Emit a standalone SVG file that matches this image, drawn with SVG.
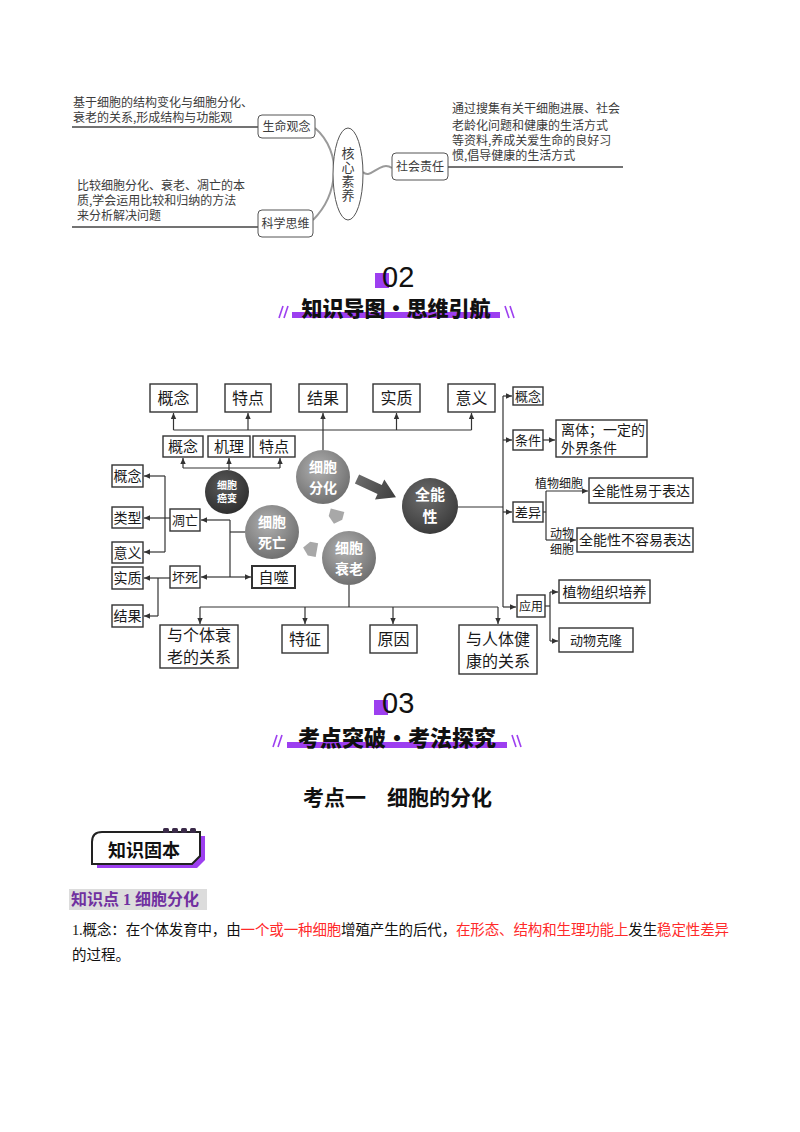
<svg xmlns="http://www.w3.org/2000/svg" width="800" height="1132" viewBox="0 0 800 1132">
<defs>
<style>
.scan{font-family:"Noto Sans CJK SC",sans-serif;font-size:12px;fill:#3c3c3c;}
.sct{font-family:"Noto Sans CJK SC",sans-serif;font-size:12px;fill:#3c3c3c;text-anchor:middle;}
.tbox{fill:#fff;stroke:#555;stroke-width:1;}
.tl{fill:none;stroke:#444;stroke-width:1.3;}
.gc{fill:none;stroke:#9a9a9a;stroke-width:2;}
.mb{fill:#fff;stroke:#333;stroke-width:1.4;}
.mt{font-family:"Noto Sans CJK SC",sans-serif;fill:#1a1a1a;text-anchor:middle;}
.ml{font-family:"Noto Sans CJK SC",sans-serif;fill:#1a1a1a;}
.ct{font-family:"Noto Sans CJK SC",sans-serif;fill:#fff;font-weight:bold;text-anchor:middle;}
.ln{fill:none;stroke:#333;stroke-width:1.2;}
.la{fill:none;stroke:#333;stroke-width:1.2;marker-end:url(#ah);}
.pur{fill:#9d3ff0;}
.sl{stroke:#9d3ff0;stroke-width:1.6;}
.hd{font-family:"Noto Sans CJK SC",sans-serif;font-weight:900;fill:#111;text-anchor:middle;}
.num{font-family:"Liberation Sans","DejaVu Sans",sans-serif;font-size:29px;fill:#111;}
.body{font-family:"Liberation Serif","Noto Sans CJK SC",serif;font-size:14.5px;fill:#111;}
.red{fill:#ff2a2a;}
</style>
<marker id="ah" viewBox="0 0 10 10" refX="10" refY="5" markerWidth="7" markerHeight="6" orient="auto" markerUnits="userSpaceOnUse">
<path d="M0,0.5 L10,5 L0,9.5 z" fill="#333"/>
</marker>
<radialGradient id="gMid" cx="42%" cy="35%" r="70%">
<stop offset="0" stop-color="#b0b0b0"/><stop offset="1" stop-color="#6c6c6c"/>
</radialGradient>
<radialGradient id="gDark" cx="42%" cy="35%" r="70%">
<stop offset="0" stop-color="#6e6e6e"/><stop offset="1" stop-color="#383838"/>
</radialGradient>
<radialGradient id="gCan" cx="42%" cy="35%" r="70%">
<stop offset="0" stop-color="#5a5a5a"/><stop offset="1" stop-color="#2c2c2c"/>
</radialGradient>
<linearGradient id="gArr" x1="0" y1="0" x2="1" y2="0">
<stop offset="0" stop-color="#6a6a6a"/><stop offset="1" stop-color="#3e3e3e"/>
</linearGradient>
</defs>
<rect width="800" height="1132" fill="#fff"/>

<!-- ===== Top: core literacy ===== -->
<g id="top-connectors">
<line class="tl" x1="72" y1="127" x2="258" y2="127"/>
<line class="tl" x1="72" y1="227" x2="258" y2="227"/>
<line class="tl" x1="448" y1="167" x2="623" y2="167"/>
<path class="gc" d="M315,128 C329,140 335,158 334,173 C333,190 326,207 313,220"/>
<path class="gc" d="M363,172 C371,180 380,160 392,168"/>
</g>
<g id="t-text-left1">
<text class="scan" x="73" y="107">基于细胞的结构变化与细胞分化、<tspan x="73" y="122">衰老的关系,形成结构与功能观</tspan></text>
</g>
<g id="t-text-left2">
<text class="scan" x="77" y="190">比较细胞分化、衰老、凋亡的本<tspan x="77" y="205">质,学会运用比较和归纳的方法</tspan><tspan x="77" y="220">来分析解决问题</tspan></text>
</g>
<g id="t-text-right">
<text class="scan" x="452" y="113">通过搜集有关干细胞进展、社会<tspan x="452" y="130">老龄化问题和健康的生活方式</tspan><tspan x="452" y="145">等资料,养成关爱生命的良好习</tspan><tspan x="452" y="160">惯,倡导健康的生活方式</tspan></text>
</g>
<g id="t-shengming">
<rect class="tbox" x="258" y="115" width="57" height="23" rx="4"/>
<text class="sct" x="286.5" y="131">生命观念</text>
</g>
<g id="t-kexue">
<rect class="tbox" x="258" y="210" width="55" height="27" rx="4"/>
<text class="sct" x="285.5" y="228">科学思维</text>
</g>
<g id="t-shehui">
<rect class="tbox" x="392" y="153" width="56" height="27" rx="4"/>
<text class="sct" x="420" y="171">社会责任</text>
</g>
<g id="t-core">
<ellipse cx="348" cy="174" rx="15" ry="46" fill="#fff" stroke="#555" stroke-width="1"/>
<text x="348" y="147" writing-mode="tb" style="font-family:'Noto Sans CJK SC',sans-serif;font-size:13px;fill:#3c3c3c;letter-spacing:1px">核心素养</text>
</g>

<!-- ===== Header 02 ===== -->
<g id="header-02">
<rect class="pur" x="375" y="273" width="14" height="15"/>
<text class="num" x="382" y="287">02</text>
<rect class="pur" x="292" y="312" width="208" height="6"/>
<text class="hd" x="396" y="316" style="font-size:21px">知识导图·思维引航</text>
<line class="sl" x1="279" y1="318" x2="283" y2="306"/>
<line class="sl" x1="284" y1="318" x2="288" y2="306"/>
<line class="sl" x1="505" y1="306" x2="509" y2="318"/>
<line class="sl" x1="510" y1="306" x2="514" y2="318"/>
</g>

<!-- ===== Mind map connectors ===== -->
<g id="connectors">
<line class="ln" x1="173.5" y1="430" x2="471.5" y2="430"/>
<line class="la" x1="173.5" y1="430" x2="173.5" y2="413"/>
<line class="la" x1="248" y1="430" x2="248" y2="413"/>
<line class="la" x1="396.5" y1="430" x2="396.5" y2="413"/>
<line class="la" x1="471.5" y1="430" x2="471.5" y2="413"/>
<line class="la" x1="323" y1="450" x2="323" y2="413"/>
<line class="ln" x1="183" y1="468" x2="280" y2="468"/>
<line class="la" x1="183" y1="468" x2="183" y2="458"/>
<line class="la" x1="280" y1="468" x2="280" y2="458"/>
<line class="la" x1="229" y1="470" x2="229" y2="458"/>
<line class="ln" x1="165" y1="476" x2="165" y2="552"/>
<line class="la" x1="165" y1="476" x2="144" y2="476"/>
<line class="la" x1="165" y1="552" x2="144" y2="552"/>
<line class="la" x1="170" y1="518" x2="144" y2="518"/>
<line class="ln" x1="245" y1="532" x2="230" y2="532"/>
<line class="ln" x1="230" y1="520" x2="230" y2="577"/>
<line class="la" x1="230" y1="520" x2="201" y2="520"/>
<line class="la" x1="230" y1="577" x2="201" y2="577"/>
<line class="la" x1="230" y1="577" x2="251" y2="577"/>
<line class="la" x1="170" y1="578" x2="144" y2="578"/>
<line class="ln" x1="158" y1="578" x2="158" y2="616"/>
<line class="la" x1="158" y1="616" x2="144" y2="616"/>
<line class="ln" x1="349" y1="585" x2="349" y2="607"/>
<line class="ln" x1="200" y1="607" x2="498" y2="607"/>
<line class="la" x1="200" y1="607" x2="200" y2="624"/>
<line class="la" x1="305" y1="607" x2="305" y2="624"/>
<line class="la" x1="393" y1="607" x2="393" y2="624"/>
<line class="la" x1="498" y1="607" x2="498" y2="624"/>
<line class="ln" x1="458" y1="507" x2="503" y2="507"/>
<line class="ln" x1="503" y1="396" x2="503" y2="607"/>
<line class="la" x1="503" y1="396" x2="512" y2="396"/>
<line class="la" x1="503" y1="440" x2="512" y2="440"/>
<line class="la" x1="503" y1="512" x2="512" y2="512"/>
<line class="la" x1="503" y1="607" x2="516" y2="607"/>
<line class="la" x1="543" y1="440" x2="555" y2="440"/>
<line class="ln" x1="543" y1="512" x2="546" y2="512"/>
<line class="ln" x1="546" y1="491" x2="546" y2="540"/>
<line class="la" x1="546" y1="491" x2="588" y2="491"/>
<line class="la" x1="546" y1="540" x2="576" y2="540"/>
<line class="ln" x1="545" y1="606" x2="550" y2="606"/>
<line class="ln" x1="550" y1="592" x2="550" y2="641"/>
<line class="la" x1="550" y1="592" x2="558" y2="592"/>
<line class="la" x1="550" y1="641" x2="558" y2="641"/>
<g transform="translate(357,479) rotate(25)">
<polygon points="0,-5 25,-5 25,-11 43,0 25,11 25,5 0,5" fill="url(#gArr)"/>
</g>
<g transform="translate(336,516) rotate(15)">
<polygon points="-7,-6 7,-6 7,2 0,8 -7,2" fill="#a8a8a8"/>
</g>
<g transform="translate(311,549) rotate(100)">
<polygon points="-7,-6 7,-6 7,2 0,8 -7,2" fill="#a8a8a8"/>
</g>
</g>

<!-- ===== Mind map nodes ===== -->
<g id="n-top-gainian"><rect class="mb" x="150" y="384" width="47" height="28"/><text class="mt" x="173.5" y="404" font-size="16">概念</text></g>
<g id="n-top-tedian"><rect class="mb" x="225" y="384" width="46" height="28"/><text class="mt" x="248" y="404" font-size="16">特点</text></g>
<g id="n-top-jieguo"><rect class="mb" x="299" y="384" width="48" height="28"/><text class="mt" x="323" y="404" font-size="16">结果</text></g>
<g id="n-top-shizhi"><rect class="mb" x="373" y="384" width="47" height="28"/><text class="mt" x="396.5" y="404" font-size="16">实质</text></g>
<g id="n-top-yiyi"><rect class="mb" x="448" y="384" width="47" height="28"/><text class="mt" x="471.5" y="404" font-size="16">意义</text></g>

<g id="n-c-gainian"><rect class="mb" x="163" y="436" width="40" height="21"/><text class="mt" x="183" y="451.5" font-size="15">概念</text></g>
<g id="n-c-jili"><rect class="mb" x="208" y="436" width="42" height="21"/><text class="mt" x="229" y="451.5" font-size="15">机理</text></g>
<g id="n-c-tedian"><rect class="mb" x="253" y="436" width="42" height="21"/><text class="mt" x="274" y="451.5" font-size="15">特点</text></g>

<g id="n-l-gainian"><rect class="mb" x="112" y="465" width="31" height="22"/><text class="mt" x="127.5" y="481" font-size="14">概念</text></g>
<g id="n-l-leixing"><rect class="mb" x="112" y="507" width="31" height="21"/><text class="mt" x="127.5" y="522.5" font-size="14">类型</text></g>
<g id="n-l-yiyi"><rect class="mb" x="112" y="542" width="31" height="21"/><text class="mt" x="127.5" y="557.5" font-size="14">意义</text></g>
<g id="n-l-shizhi"><rect class="mb" x="112" y="567" width="31" height="22"/><text class="mt" x="127.5" y="583" font-size="14">实质</text></g>
<g id="n-l-jieguo"><rect class="mb" x="112" y="605" width="31" height="22"/><text class="mt" x="127.5" y="621" font-size="14">结果</text></g>
<g id="n-diaowang"><rect class="mb" x="170" y="509" width="30" height="22"/><text class="mt" x="185" y="524.5" font-size="13">凋亡</text></g>
<g id="n-huaisi"><rect class="mb" x="170" y="566" width="30" height="22"/><text class="mt" x="185" y="581.5" font-size="13">坏死</text></g>
<g id="n-zishi"><rect class="mb" x="252" y="566" width="43" height="22" style="stroke-width:2"/><text class="mt" x="273.5" y="582.5" font-size="15">自噬</text></g>

<g id="n-b-geti"><rect class="mb" x="160" y="625" width="78" height="43"/><text class="mt" x="199" y="641" font-size="16">与个体衰<tspan x="199" y="663">老的关系</tspan></text></g>
<g id="n-b-tezheng"><rect class="mb" x="282" y="625" width="46" height="28"/><text class="mt" x="305" y="645" font-size="16">特征</text></g>
<g id="n-b-yuanyin"><rect class="mb" x="370" y="625" width="47" height="28"/><text class="mt" x="393.5" y="645" font-size="16">原因</text></g>
<g id="n-b-renti"><rect class="mb" x="459" y="625" width="78" height="49"/><text class="mt" x="498" y="645" font-size="16">与人体健<tspan x="498" y="667">康的关系</tspan></text></g>

<g id="n-r-gainian"><rect class="mb" x="513" y="387" width="30" height="18"/><text class="mt" x="528" y="400.5" font-size="13">概念</text></g>
<g id="n-r-tiaojian"><rect class="mb" x="513" y="430" width="30" height="20"/><text class="mt" x="528" y="444.5" font-size="13">条件</text></g>
<g id="n-r-liti"><rect class="mb" x="556" y="420" width="91" height="37"/><text class="ml" x="561" y="435" font-size="14">离体；一定的<tspan x="561" y="453">外界条件</tspan></text></g>
<g id="n-r-chayi"><rect class="mb" x="513" y="502" width="30" height="20"/><text class="mt" x="528" y="516.5" font-size="13">差异</text></g>
<g id="n-r-yiyu"><rect class="mb" x="589" y="478" width="104" height="25"/><text class="mt" x="641" y="495.5" font-size="14">全能性易于表达</text></g>
<g id="n-r-burongyi"><rect class="mb" x="577" y="528" width="116" height="24"/><text class="mt" x="635" y="545" font-size="14">全能性不容易表达</text></g>
<g id="n-r-yingyong"><rect class="mb" x="517" y="595" width="28" height="22"/><text class="mt" x="531" y="610.5" font-size="12">应用</text></g>
<g id="n-r-zuzhi"><rect class="mb" x="559" y="580" width="91" height="23"/><text class="mt" x="604.5" y="596.5" font-size="14">植物组织培养</text></g>
<g id="n-r-kelong"><rect class="mb" x="559" y="628" width="74" height="24"/><text class="mt" x="596" y="645" font-size="13">动物克隆</text></g>
<g id="lbl-zhiwu"><text class="ml" x="535" y="488" font-size="12">植物细胞</text></g>
<g id="lbl-dongwu"><text class="ml" x="550" y="538" font-size="12">动物<tspan x="550" y="554">细胞</tspan></text></g>

<g id="c-aibian"><circle cx="227" cy="492" r="22" fill="url(#gCan)"/><text class="ct" x="227" y="489" font-size="10">细胞<tspan x="227" y="502">癌变</tspan></text></g>
<g id="c-fenhua"><circle cx="323" cy="477" r="27" fill="url(#gMid)"/><text class="ct" x="323" y="472" font-size="14">细胞<tspan x="323" y="492.5">分化</tspan></text></g>
<g id="c-quanneng"><circle cx="430" cy="506" r="28" fill="url(#gDark)"/><text class="ct" x="430" y="500" font-size="15">全能<tspan x="430" y="522">性</tspan></text></g>
<g id="c-siwang"><circle cx="272" cy="532" r="27" fill="url(#gMid)"/><text class="ct" x="272" y="527" font-size="14">细胞<tspan x="272" y="547.5">死亡</tspan></text></g>
<g id="c-shuailao"><circle cx="349" cy="558" r="27" fill="url(#gMid)"/><text class="ct" x="349" y="553" font-size="14">细胞<tspan x="349" y="573.5">衰老</tspan></text></g>

<!-- ===== Header 03 ===== -->
<g id="header-03">
<rect class="pur" x="374" y="700" width="14" height="15"/>
<text class="num" x="382" y="713">03</text>
<rect class="pur" x="287" y="742" width="220" height="6"/>
<text class="hd" x="397" y="746" style="font-size:22px">考点突破·考法探究</text>
<line class="sl" x1="273" y1="747" x2="277" y2="735"/>
<line class="sl" x1="278" y1="747" x2="282" y2="735"/>
<line class="sl" x1="512" y1="735" x2="516" y2="747"/>
<line class="sl" x1="517" y1="735" x2="521" y2="747"/>
</g>

<g id="section-title">
<text x="303" y="805" style="font-family:'Noto Sans CJK SC',sans-serif;font-weight:bold;font-size:21px;fill:#111">考点一　细胞的分化</text>
</g>

<g id="badge">
<path d="M97,836 H205 V860 L197,868 H97 Z" fill="#9d3ff0"/>
<path d="M102,832 H200 V856 L192,864 H92 V842 Q92,832 102,832 Z" fill="#fff" stroke="#222" stroke-width="2"/>
<rect x="163" y="828" width="6" height="5" rx="1.5" fill="#3a2a48"/>
<rect x="172" y="828" width="6" height="5" rx="1.5" fill="#3a2a48"/>
<rect x="181" y="828" width="6" height="5" rx="1.5" fill="#3a2a48"/>
<rect x="190" y="828" width="6" height="5" rx="1.5" fill="#3a2a48"/>
<text x="108" y="857" style="font-family:'Noto Sans CJK SC',sans-serif;font-weight:bold;font-size:18px;fill:#111">知识固本</text>
</g>

<g id="kp1">
<rect x="69" y="889" width="138" height="21" fill="#dcdcdc"/>
<text x="71" y="905" style="font-family:'Liberation Serif','Noto Sans CJK SC',serif;font-weight:bold;font-size:16px;fill:#7030a0">知识点 1  细胞分化</text>
</g>

<g id="body-text">
<text class="body" x="72" y="935" textLength="657" lengthAdjust="spacing">1.概念：在个体发育中，由<tspan class="red">一个或一种细胞</tspan>增殖产生的后代，<tspan class="red">在形态、结构和生理功能上</tspan>发生<tspan class="red">稳定性差异</tspan></text>
<text class="body" x="72" y="960">的过程。</text>
</g>
</svg>
